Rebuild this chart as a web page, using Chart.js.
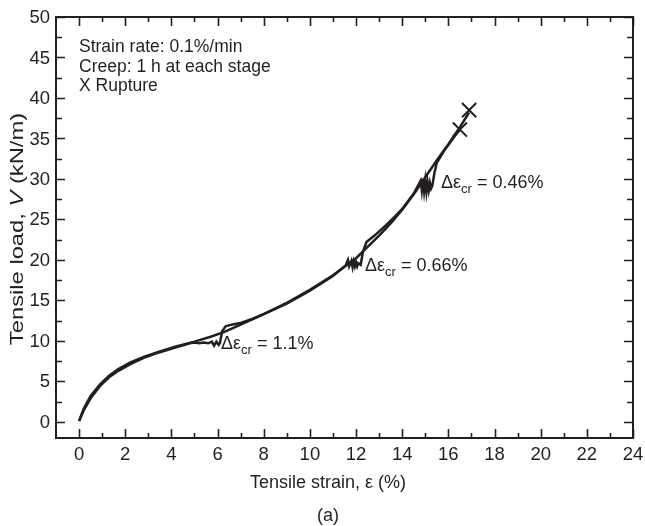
<!DOCTYPE html>
<html>
<head>
<meta charset="utf-8">
<script src="https://cdn.jsdelivr.net/npm/chart.js@4.4.1/dist/chart.umd.min.js"></script>
<style>
  body { margin: 0; background: #fff; }
  #wrap { width: 645px; height: 526px; }
</style>
</head>
<body>
<div id="wrap"><canvas id="chart" width="645" height="526"></canvas></div>
<script>
// tick values
const xTicks = [0, 2, 4, 6, 8, 10, 12, 14, 16, 18, 20, 22, 24]
const yTicks = [0, 5, 10, 15, 20, 25, 30, 35, 40, 45, 50]

// monotonic curve, strain (%) / load (kN/m)
const monoStrain = [0, 0.2, 0.5, 0.9, 1.3, 1.7, 2.2, 2.8, 3.5, 4.2, 5.0, 5.7, 6.3, 7.0, 8.0, 9.0, 10.0, 11.0, 12.0, 12.5, 13.0, 13.5, 14.0, 14.5, 15.0, 15.5, 16.0, 16.5, 16.9]
const monoLoad   = [0.1, 1.6, 3.2, 4.6, 5.7, 6.5, 7.3, 8.0, 8.7, 9.3, 9.9, 10.5, 11.1, 12.0, 13.3, 14.7, 16.3, 18.1, 20.2, 21.6, 23.0, 24.5, 26.2, 28.1, 30.2, 32.3, 34.3, 36.4, 38.2]

// multistage creep curve (creep at 10, 20 and 30 kN/m)
const creepStrain = [0, 0.2, 0.5, 0.9, 1.3, 1.7, 2.2, 2.8, 3.5, 4.2, 4.8, 5.0, 5.2, 5.4, 5.6, 5.75, 5.85, 5.95, 6.05, 6.1, 6.2, 6.35, 6.6, 7.0, 7.5, 8.0, 9.0, 10.0, 11.0, 11.55, 11.65, 11.7, 11.8, 11.85, 11.9, 11.95, 12.0, 12.05, 12.1, 12.2, 12.3, 12.45, 12.8, 13.3, 13.7, 14.0, 14.5, 14.8, 14.85, 14.9, 14.95, 15.0, 15.05, 15.1, 15.15, 15.2, 15.25, 15.3, 15.4, 15.5, 15.8, 16.2, 16.5]
const creepLoad   = [0.1, 1.4, 2.9, 4.4, 5.5, 6.3, 7.1, 7.9, 8.6, 9.2, 9.7, 9.8, 9.7, 9.8, 9.7, 9.9, 9.4, 9.9, 9.5, 9.7, 11.2, 11.8, 12.0, 12.2, 12.7, 13.3, 14.6, 16.2, 18.0, 19.3, 20.0, 19.2, 19.9, 19.1, 19.8, 19.2, 19.7, 19.2, 19.6, 19.4, 21.0, 22.2, 23.0, 24.3, 25.4, 26.3, 28.2, 29.8, 28.6, 30.0, 28.5, 29.8, 28.4, 29.6, 28.6, 29.5, 28.8, 29.1, 30.8, 32.0, 33.4, 35.0, 36.1]

// rupture points
const ruptureStrain = [16.5, 16.9]
const ruptureLoad   = [36.1, 38.5]

const infoLines = ['Strain rate: 0.1%/min', 'Creep: 1 h at each stage', 'X Rupture']
const notes = [
  { x: 221, y: 349, value: '1.1%' },
  { x: 365, y: 271, value: '0.66%' },
  { x: 441, y: 188, value: '0.46%' },
]

const ink = '#231f20'
const font = '"Liberation Sans", Arial, Helvetica, sans-serif'

function pts(xs, ys) { return xs.map((v, i) => ({ x: v, y: ys[i] })) }

const framePlugin = {
  id: 'frame',
  afterDraw(chart) {
    const ctx = chart.ctx
    const a = chart.chartArea
    const sx = chart.scales.x, sy = chart.scales.y
    ctx.save()
    ctx.strokeStyle = ink
    ctx.lineWidth = 2
    ctx.strokeRect(a.left, a.top, a.right - a.left, a.bottom - a.top)
    ctx.lineWidth = 1.6
    ctx.beginPath()
    for (let v = 0; v <= 24; v += 1) {
      const p = Math.round(sx.getPixelForValue(v)) + 0.5
      const len = v % 2 === 0 ? 9 : 5
      ctx.moveTo(p, a.bottom); ctx.lineTo(p, a.bottom - len)
      ctx.moveTo(p, a.top); ctx.lineTo(p, a.top + len)
    }
    for (let v = 0; v <= 50; v += 2.5) {
      const p = Math.round(sy.getPixelForValue(v)) + 0.5
      const len = v % 5 === 0 ? 9 : 6
      ctx.moveTo(a.left, p); ctx.lineTo(a.left + len, p)
      ctx.moveTo(a.right, p); ctx.lineTo(a.right - len, p)
    }
    ctx.stroke()

    ctx.fillStyle = ink
    // tick labels
    ctx.font = '18.5px ' + font
    ctx.textBaseline = 'middle'
    ctx.textAlign = 'center'
    xTicks.forEach(v => ctx.fillText(String(v), sx.getPixelForValue(v), a.bottom + 17))
    ctx.textAlign = 'right'
    yTicks.forEach(v => ctx.fillText(String(v), a.left - 6, sy.getPixelForValue(v) + 1))

    ctx.textBaseline = 'alphabetic'
    ctx.textAlign = 'left'
    ctx.font = '17.5px ' + font
    infoLines.forEach((t, i) => ctx.fillText(t, 79, 52 + i * 19.5))

    notes.forEach(n => {
      ctx.font = '18px ' + font
      let x = n.x
      ctx.fillText('\u0394\u03b5', x, n.y)
      x += ctx.measureText('\u0394\u03b5').width
      ctx.font = '13px ' + font
      ctx.fillText('cr', x, n.y + 5)
      x += ctx.measureText('cr').width
      ctx.font = '18px ' + font
      ctx.fillText(' = ' + n.value, x, n.y)
    })

    ctx.textAlign = 'center'
    ctx.font = '18px ' + font
    ctx.fillText('Tensile strain, \u03b5 (%)', 328, 488)
    ctx.fillText('(a)', 328, 521)

    // y title with italic V, stretched along its length like the source
    ctx.translate(17.5, 229)
    ctx.rotate(-Math.PI / 2)
    ctx.scale(1.25, 1)
    ctx.textAlign = 'left'
    ctx.textBaseline = 'middle'
    const parts = [['Tensile load, ', ''], ['V', 'italic '], [' (kN/m)', '']]
    let w = 0
    parts.forEach(p => { ctx.font = p[1] + '19px ' + font; w += ctx.measureText(p[0]).width })
    let x = -w / 2
    parts.forEach(p => {
      ctx.font = p[1] + '19px ' + font
      ctx.fillText(p[0], x, 0)
      x += ctx.measureText(p[0]).width
    })
    ctx.restore()
  }
}

new Chart(document.getElementById('chart'), {
  type: 'scatter',
  data: {
    datasets: [
      { label: 'Monotonic', data: pts(monoStrain, monoLoad), showLine: true, borderColor: ink, borderWidth: 2.5, pointRadius: 0 },
      { label: 'Creep stages', data: pts(creepStrain, creepLoad), showLine: true, borderColor: ink, borderWidth: 2.5, pointRadius: 0 },
      { label: 'Rupture', data: pts(ruptureStrain, ruptureLoad), pointStyle: 'crossRot', pointRadius: 10, borderColor: ink, borderWidth: 2, backgroundColor: ink }
    ]
  },
  options: {
    responsive: false,
    animation: false,
    layout: { padding: { top: 17, right: 11, left: 0, bottom: 48 } },
    plugins: { legend: { display: false }, tooltip: { enabled: false } },
    scales: {
      x: {
        type: 'linear', min: -1, max: 24,
        afterBuildTicks: s => { s.ticks = xTicks.map(v => ({ value: v })) },
        afterFit: s => { s.height = 40 },
        grid: { display: false, drawTicks: false },
        border: { display: false },
        ticks: { display: false }
      },
      y: {
        type: 'linear', min: -2, max: 50,
        afterBuildTicks: s => { s.ticks = yTicks.map(v => ({ value: v })) },
        afterFit: s => { s.width = 56 },
        grid: { display: false, drawTicks: false },
        border: { display: false },
        ticks: { display: false }
      }
    }
  },
  plugins: [framePlugin]
})
</script>
</body>
</html>
